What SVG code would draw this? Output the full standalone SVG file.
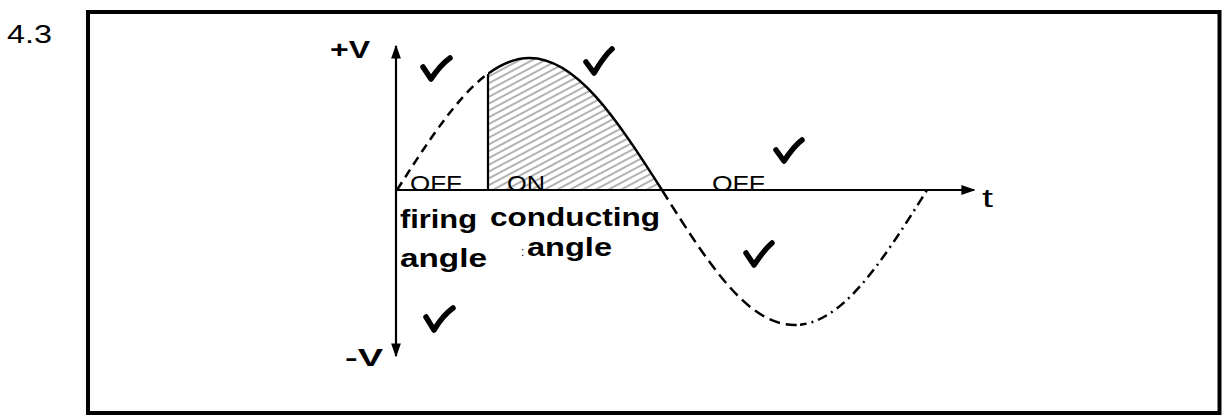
<svg xmlns="http://www.w3.org/2000/svg" width="1224" height="416" viewBox="0 0 1224 416">
  <style>
    .lbl { font-family: "Liberation Sans", Arial, sans-serif; fill: #000; }
    .b { font-weight: bold; }
    .wave { fill: none; stroke: #000; stroke-width: 2.5; }
    .tick { fill: none; stroke: #000; stroke-width: 5.5; stroke-linecap: round; stroke-linejoin: round; }
  </style>
  <defs>
    <marker id="arrH" viewBox="0 0 10 10" refX="9" refY="5" markerWidth="14" markerHeight="14" markerUnits="userSpaceOnUse" orient="auto">
      <path d="M0,1.5 L10,5 L0,8.5 Z" fill="#000"/>
    </marker>
    <pattern id="hatch" width="6" height="6" patternUnits="userSpaceOnUse" patternTransform="rotate(-28)">
      <line x1="0" y1="3" x2="6" y2="3" stroke="#555" stroke-width="0.9"/>
    </pattern>
    <clipPath id="cLeft"><rect x="380" y="40" width="108" height="160"/></clipPath>
    <clipPath id="cOn"><rect x="488" y="40" width="180" height="151"/></clipPath>
    <clipPath id="cNeg1"><rect x="660" y="189" width="140" height="150"/></clipPath>
    <clipPath id="cNeg2"><rect x="800" y="185" width="140" height="154"/></clipPath>
  </defs>

  <!-- frame -->
  <rect x="88" y="12" width="1131.5" height="401" fill="none" stroke="#000" stroke-width="4"/>
  <text class="lbl" x="7" y="43" font-size="25" textLength="45" lengthAdjust="spacingAndGlyphs">4.3</text>

  <!-- shaded conducting region -->
  <path d="M397,190 C443.6,117.1 482.9,58 529.5,58 C576.1,58 615.4,117.1 662,190 Z" fill="url(#hatch)" clip-path="url(#cOn)"/>

  <g id="state-labels">
    <text class="lbl" x="410" y="190.5" font-size="22" textLength="52" lengthAdjust="spacingAndGlyphs">OFF</text>
    <text class="lbl" x="507" y="190.5" font-size="22" textLength="38" lengthAdjust="spacingAndGlyphs">ON</text>
    <text class="lbl" x="712" y="190.5" font-size="22" textLength="53" lengthAdjust="spacingAndGlyphs">OFF</text>
  </g>

  <g id="connectors">
    <!-- axes -->
    <line id="v-axis-up" x1="396" y1="190" x2="396" y2="46" stroke="#000" stroke-width="2.2" marker-end="url(#arrH)"/>
    <line id="v-axis-down" x1="396" y1="190" x2="396" y2="356" stroke="#000" stroke-width="2.2" marker-end="url(#arrH)"/>
    <line id="t-axis" x1="396" y1="190" x2="974" y2="190" stroke="#000" stroke-width="2.2" marker-end="url(#arrH)"/>
    <!-- waveform -->
    <path class="wave" clip-path="url(#cLeft)" stroke-dasharray="9,6" d="M397,190 C443.6,117.1 482.9,58 529.5,58"/>
    <path class="wave" clip-path="url(#cOn)" d="M397,190 C443.6,117.1 482.9,58 529.5,58 C576.1,58 615.4,117.1 662,190 L670,202"/>
    <path class="wave" clip-path="url(#cNeg1)" stroke-dasharray="11,6" d="M662,190 C708.6,264.56 747.9,325 794.5,325 C841.1,325 880.4,264.56 927,190"/>
    <path class="wave" clip-path="url(#cNeg2)" stroke-dasharray="10,5,2,5" d="M662,190 C708.6,264.56 747.9,325 794.5,325 C841.1,325 880.4,264.56 927,190"/>
    <line id="firing-line" x1="488" y1="190" x2="488" y2="74" stroke="#000" stroke-width="2.2"/>
  </g>

  <g id="axis-labels">
    <text class="lbl b" x="330" y="58" font-size="24" textLength="40" lengthAdjust="spacingAndGlyphs">+V</text>
    <text class="lbl b" x="345" y="366" font-size="24" textLength="38" lengthAdjust="spacingAndGlyphs">-V</text>
    <text class="lbl" x="982" y="207" font-size="26" textLength="11" lengthAdjust="spacingAndGlyphs">t</text>
  </g>

  <g id="firing-angle">
    <text class="lbl b" x="400" y="228" font-size="25" textLength="77" lengthAdjust="spacingAndGlyphs">firing</text>
    <text class="lbl b" x="400" y="267" font-size="25" textLength="87" lengthAdjust="spacingAndGlyphs">angle</text>
  </g>
  <g id="conducting-angle">
    <text class="lbl b" x="490" y="226" font-size="25" textLength="170" lengthAdjust="spacingAndGlyphs">conducting</text>
    <text class="lbl" x="521" y="256" font-size="12" fill="#336">:</text>
    <text class="lbl b" x="527" y="256" font-size="25" textLength="85" lengthAdjust="spacingAndGlyphs">angle</text>
  </g>

  <g id="ticks">
    <path class="tick" d="M423,67 L431,79 C437,70 443,63 450,58"/>
    <path class="tick" d="M586,62 L594,73 C600,63 605,55 612,49"/>
    <path class="tick" d="M776,150 L784,161 C790,152 795,145 802,140"/>
    <path class="tick" d="M746,253 L754,265 C760,256 765,249 772,243"/>
    <path class="tick" d="M426,317 L434,330 C440,320 446,313 453,308"/>
  </g>
</svg>
